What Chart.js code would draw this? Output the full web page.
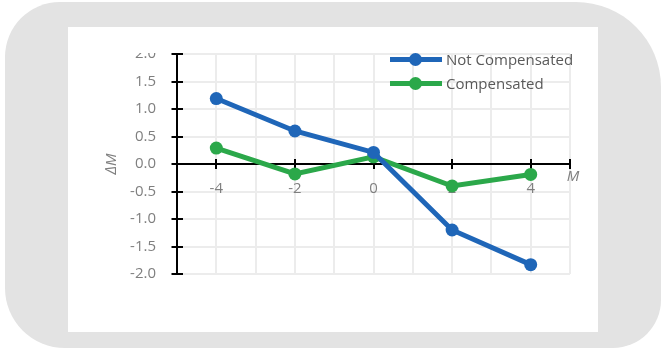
<!DOCTYPE html>
<html>
<head>
<meta charset="utf-8">
<script src="https://cdn.jsdelivr.net/npm/chart.js@4.4.1/dist/chart.umd.min.js"></script>
<style>
  body { margin: 0; width: 666px; height: 351px; position: relative; overflow: hidden; background: #fff; font-family: "Open Sans", sans-serif; }
  #frame { position: absolute; left: 5px; top: 2px; width: 656px; height: 346px; background: #e3e3e3; border-radius: 55px 85px 48px 60px; }
  #panel { position: absolute; left: 68px; top: 27px; width: 530px; height: 305px; background: #fff; }
  #clip { position: absolute; left: 68px; top: 53px; width: 530px; height: 279px; overflow: hidden; }
  #wrap { position: absolute; left: 0; top: -29px; width: 530px; height: 305px; }
  #legend { position: absolute; left: 322px; top: -6px; }
  #legend ul { list-style: none; margin: 0; padding: 0; }
  #legend li { display: flex; align-items: center; height: 24px; font-size: 15px; color: #595959; white-space: nowrap; }
  #legend .swatch { position: relative; width: 52px; height: 5px; margin-right: 4px; }
  #legend .dot { position: absolute; left: 19px; top: -4px; width: 13px; height: 13px; border-radius: 50%; }
</style>
</head>
<body>
<div id="frame"></div>
<div id="panel"></div>
<div id="clip">
  <div id="wrap"><canvas id="chart"></canvas></div>
  <div id="legend"></div>
</div>
<script>
// データ
const xValues = [-4, -2, 0, 2, 4];
const notCompensated = [1.19, 0.6, 0.21, -1.2, -1.83];
const compensated = [0.29, -0.18, 0.13, -0.4, -0.19];
const seriesNames = ["Not Compensated", "Compensated"];
const seriesColors = ["#1f66b8", "#2ba84a"];
const xLabelTicks = [-4, -2, 0, 2, 4];

const X_MIN = -5, X_MAX = 5;
const Y_MIN = -2, Y_MAX = 2;

/* ===== 外側HTML凡例 ===== */
const htmlLegendPlugin = {
  id: 'htmlLegend',
  afterUpdate(chart, args, options) {
    const container = document.getElementById(options.containerID);
    if (!container) return;
    let ul = container.querySelector('ul');
    if (!ul) {
      ul = document.createElement('ul');
      container.appendChild(ul);
    }
    while (ul.firstChild) ul.firstChild.remove();

    chart.data.datasets.forEach(ds => {
      const li = document.createElement('li');
      const sw = document.createElement('span');
      sw.className = 'swatch';
      sw.style.background = ds.borderColor;
      const dot = document.createElement('span');
      dot.className = 'dot';
      dot.style.background = ds.borderColor;
      sw.appendChild(dot);
      li.appendChild(sw);
      li.appendChild(document.createTextNode(ds.label));
      ul.appendChild(li);
    });
  }
};

/* ===== 軸の十字目盛りと "M" ラベル ===== */
const crossTicksPlugin = {
  id: 'crossTicks',
  beforeDatasetsDraw(chart) {
    const { ctx, scales: { x, y } } = chart;
    const axisX = x.getPixelForValue(X_MIN);
    const axisY = y.getPixelForValue(0);
    ctx.save();
    ctx.strokeStyle = '#000';
    ctx.lineWidth = 2;
    ctx.beginPath();
    y.ticks.forEach(t => {
      const py = Math.round(y.getPixelForValue(t.value));
      ctx.moveTo(axisX - 5.5, py);
      ctx.lineTo(axisX + 6, py);
    });
    xLabelTicks.concat([X_MAX]).forEach(v => {
      const px = Math.round(x.getPixelForValue(v));
      ctx.moveTo(px, axisY - 5);
      ctx.lineTo(px, axisY + 5);
    });
    ctx.stroke();

    ctx.fillStyle = '#7f7f7f';
    ctx.font = 'italic 15px "Open Sans"';
    ctx.textAlign = 'center';
    ctx.textBaseline = 'middle';
    ctx.fillText('M', x.getPixelForValue(X_MAX) + 3, axisY + 13);
    ctx.restore();
  }
};

function toPoints(ys) {
  return xValues.map((v, i) => ({ x: v, y: ys[i] }));
}

Chart.defaults.font.family = '"Open Sans", sans-serif';
Chart.defaults.font.size = 15;
Chart.defaults.color = '#7f7f7f';

const ctx = document.getElementById('chart').getContext('2d');
const chart = new Chart(ctx, {
  type: 'line',
  data: {
    datasets: [
      {
        label: seriesNames[0],
        data: toPoints(notCompensated),
        borderColor: seriesColors[0],
        backgroundColor: seriesColors[0],
        borderWidth: 5,
        pointRadius: 6.5,
        pointBorderWidth: 0,
        pointHoverRadius: 6.5,
        tension: 0
      },
      {
        label: seriesNames[1],
        data: toPoints(compensated),
        borderColor: seriesColors[1],
        backgroundColor: seriesColors[1],
        borderWidth: 5,
        pointRadius: 6.5,
        pointBorderWidth: 0,
        pointHoverRadius: 6.5,
        tension: 0
      }
    ]
  },
  options: {
    responsive: true,
    maintainAspectRatio: false,
    animation: false,
    events: [],
    layout: { padding: { left: 0, top: 25, right: 28, bottom: 55 } },
    scales: {
      x: {
        type: 'linear',
        min: X_MIN, max: X_MAX,
        position: { y: 0 },
        border: { color: '#000', width: 2 },
        grid: { color: '#ececec', lineWidth: 2, drawTicks: false },
        ticks: {
          stepSize: 1,
          autoSkip: false,
          maxRotation: 0,
          padding: 16,
          callback: v => xLabelTicks.includes(v) ? String(v) : ''
        }
      },
      y: {
        min: Y_MIN, max: Y_MAX,
        border: { color: '#000', width: 2 },
        grid: { color: '#ececec', lineWidth: 2, drawTicks: false },
        ticks: { stepSize: 0.5, padding: 21, callback: v => v.toFixed(1) },
        title: {
          display: true,
          text: 'ΔM',
          color: '#7f7f7f',
          font: { size: 15, style: 'italic' },
          padding: { top: 35, bottom: 0 }
        },
        afterFit(scale) { scale.width = 109; }
      }
    },
    plugins: {
      legend: { display: false },
      htmlLegend: { containerID: 'legend' },
      tooltip: { enabled: false }
    }
  },
  plugins: [htmlLegendPlugin, crossTicksPlugin]
});
</script>
</body>
</html>
